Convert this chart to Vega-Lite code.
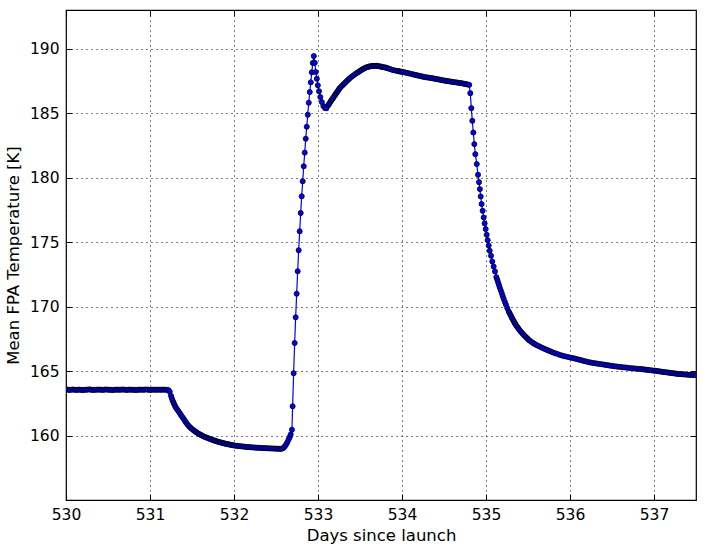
{
  "$schema": "https://vega.github.io/schema/vega-lite/v6.json",
  "width": 630,
  "height": 490,
  "autosize": {"type": "none"},
  "padding": {"left": 66, "top": 10, "right": 10, "bottom": 52},
  "background": "white",
  "config": {
    "view": {"stroke": "#000000", "strokeWidth": 1.2},
    "font": "DejaVu Sans",
    "axis": {
      "labelFont": "DejaVu Sans",
      "labelFontSize": 15.5,
      "labelColor": "#000000",
      "labelFlush": false,
      "titleFont": "DejaVu Sans",
      "titleFontSize": 16.5,
      "titleFontWeight": "normal",
      "titleColor": "#000000",
      "domain": false,
      "tickColor": "#000000",
      "tickSize": -6,
      "tickWidth": 1,
      "labelPadding": 13,
      "gridColor": "#000000",
      "gridDash": [1, 4],
      "gridWidth": 1,
      "gridOpacity": 1
    }
  },
  "data": {"values": [
    {"d":530.00,"t":163.55},{"d":530.02,"t":163.56},{"d":530.04,"t":163.53},{"d":530.06,"t":163.55},{"d":530.08,"t":163.57},{"d":530.10,"t":163.55},{"d":530.12,"t":163.54},{"d":530.14,"t":163.55},{"d":530.16,"t":163.56},{"d":530.18,"t":163.54},{"d":530.20,"t":163.52},{"d":530.22,"t":163.55},{"d":530.24,"t":163.55},{"d":530.26,"t":163.56},{"d":530.28,"t":163.58},{"d":530.30,"t":163.55},{"d":530.32,"t":163.53},{"d":530.34,"t":163.55},{"d":530.36,"t":163.55},{"d":530.38,"t":163.56},{"d":530.40,"t":163.56},{"d":530.42,"t":163.55},{"d":530.44,"t":163.54},{"d":530.46,"t":163.56},{"d":530.48,"t":163.57},{"d":530.50,"t":163.55},{"d":530.52,"t":163.55},{"d":530.54,"t":163.54},{"d":530.56,"t":163.53},{"d":530.58,"t":163.55},{"d":530.60,"t":163.56},{"d":530.62,"t":163.55},{"d":530.64,"t":163.55},{"d":530.66,"t":163.56},{"d":530.68,"t":163.57},{"d":530.70,"t":163.55},{"d":530.72,"t":163.54},{"d":530.74,"t":163.55},{"d":530.76,"t":163.56},{"d":530.78,"t":163.55},{"d":530.80,"t":163.55},{"d":530.82,"t":163.54},{"d":530.84,"t":163.53},{"d":530.86,"t":163.55},{"d":530.88,"t":163.56},{"d":530.90,"t":163.55},{"d":530.92,"t":163.55},{"d":530.94,"t":163.56},{"d":530.96,"t":163.57},{"d":530.98,"t":163.55},{"d":531.00,"t":163.54},{"d":531.02,"t":163.55},{"d":531.04,"t":163.56},{"d":531.06,"t":163.55},{"d":531.08,"t":163.55},{"d":531.10,"t":163.56},{"d":531.12,"t":163.55},{"d":531.14,"t":163.55},{"d":531.16,"t":163.56},{"d":531.18,"t":163.55},{"d":531.20,"t":163.54},{"d":531.22,"t":163.52},{"d":531.235,"t":163.40},
    {"d":531.25,"t":163.08},{"d":531.26,"t":162.88},{"d":531.27,"t":162.70},{"d":531.28,"t":162.55},{"d":531.29,"t":162.40},{"d":531.30,"t":162.27},{"d":531.31,"t":162.15},{"d":531.325,"t":162.01},{"d":531.34,"t":161.88},{"d":531.355,"t":161.73},{"d":531.37,"t":161.58},{"d":531.385,"t":161.44},{"d":531.40,"t":161.30},{"d":531.415,"t":161.15},{"d":531.43,"t":161.00},{"d":531.445,"t":160.87},{"d":531.46,"t":160.75},{"d":531.475,"t":160.65},{"d":531.49,"t":160.56},{"d":531.505,"t":160.48},{"d":531.52,"t":160.40},{"d":531.535,"t":160.33},{"d":531.55,"t":160.26},{"d":531.565,"t":160.20},{"d":531.58,"t":160.14},{"d":531.595,"t":160.08},{"d":531.61,"t":160.03},{"d":531.625,"t":159.98},{"d":531.64,"t":159.93},{"d":531.655,"t":159.89},{"d":531.67,"t":159.85},{"d":531.685,"t":159.81},{"d":531.70,"t":159.77},{"d":531.715,"t":159.73},{"d":531.73,"t":159.70},{"d":531.745,"t":159.66},{"d":531.76,"t":159.63},{"d":531.775,"t":159.59},{"d":531.79,"t":159.56},{"d":531.805,"t":159.53},{"d":531.82,"t":159.50},{"d":531.835,"t":159.47},{"d":531.85,"t":159.45},{"d":531.865,"t":159.42},{"d":531.88,"t":159.40},{"d":531.895,"t":159.37},{"d":531.91,"t":159.35},{"d":531.925,"t":159.33},{"d":531.94,"t":159.31},{"d":531.955,"t":159.29},{"d":531.97,"t":159.27},{"d":531.985,"t":159.25},{"d":532.00,"t":159.23},{"d":532.02,"t":159.21},{"d":532.04,"t":159.20},{"d":532.06,"t":159.18},{"d":532.08,"t":159.17},{"d":532.10,"t":159.15},{"d":532.12,"t":159.14},{"d":532.14,"t":159.12},{"d":532.16,"t":159.11},{"d":532.18,"t":159.10},{"d":532.20,"t":159.09},{"d":532.22,"t":159.08},{"d":532.24,"t":159.07},{"d":532.26,"t":159.06},{"d":532.28,"t":159.05},{"d":532.30,"t":159.05},{"d":532.32,"t":159.04},{"d":532.34,"t":159.03},{"d":532.36,"t":159.02},{"d":532.38,"t":159.02},{"d":532.40,"t":159.01},{"d":532.42,"t":159.00},{"d":532.44,"t":159.00},{"d":532.46,"t":158.99},{"d":532.48,"t":158.99},{"d":532.50,"t":158.98},{"d":532.52,"t":158.98},{"d":532.54,"t":158.97},{"d":532.56,"t":158.97},{"d":532.575,"t":158.99},{"d":532.59,"t":159.05},{"d":532.605,"t":159.16},{"d":532.62,"t":159.30},{"d":532.635,"t":159.48},{"d":532.65,"t":159.69},{"d":532.663,"t":159.88},{"d":532.675,"t":160.08},{"d":532.69,"t":160.45},
    {"d":532.698,"t":162.27},{"d":532.71,"t":164.83},{"d":532.722,"t":167.18},{"d":532.734,"t":169.17},{"d":532.746,"t":171.00},{"d":532.758,"t":172.74},{"d":532.77,"t":174.37},{"d":532.782,"t":175.84},{"d":532.794,"t":177.26},{"d":532.806,"t":178.55},{"d":532.818,"t":179.72},{"d":532.83,"t":180.88},{"d":532.842,"t":181.94},{"d":532.854,"t":183.02},{"d":532.866,"t":183.95},{"d":532.878,"t":184.88},{"d":532.89,"t":185.81},{"d":532.902,"t":186.64},{"d":532.914,"t":187.39},{"d":532.926,"t":188.17},{"d":532.938,"t":188.89},{"d":532.95,"t":189.43},{"d":532.962,"t":188.90},{"d":532.974,"t":188.19},{"d":532.986,"t":187.67},{"d":532.998,"t":187.16},{"d":533.012,"t":186.70},{"d":533.028,"t":186.25},{"d":533.046,"t":185.86},{"d":533.064,"t":185.55},{"d":533.083,"t":185.40},{"d":533.10,"t":185.38},{"d":533.12,"t":185.60},
    {"d":533.13,"t":185.70},{"d":533.139,"t":185.79},{"d":533.15,"t":185.90},{"d":533.16,"t":186.00},{"d":533.17,"t":186.09},{"d":533.179,"t":186.17},{"d":533.19,"t":186.28},{"d":533.20,"t":186.38},{"d":533.21,"t":186.47},{"d":533.218,"t":186.56},{"d":533.23,"t":186.66},{"d":533.24,"t":186.76},{"d":533.25,"t":186.85},{"d":533.258,"t":186.94},{"d":533.275,"t":187.05},{"d":533.29,"t":187.15},{"d":533.303,"t":187.24},{"d":533.317,"t":187.32},{"d":533.333,"t":187.43},{"d":533.35,"t":187.53},{"d":533.363,"t":187.62},{"d":533.377,"t":187.70},{"d":533.40,"t":187.82},{"d":533.42,"t":187.92},{"d":533.44,"t":188.01},{"d":533.456,"t":188.09},{"d":533.473,"t":188.16},{"d":533.49,"t":188.23},{"d":533.503,"t":188.29},{"d":533.516,"t":188.34},{"d":533.53,"t":188.40},{"d":533.545,"t":188.45},{"d":533.56,"t":188.50},{"d":533.575,"t":188.55},{"d":533.59,"t":188.58},{"d":533.605,"t":188.61},{"d":533.62,"t":188.63},{"d":533.635,"t":188.65},{"d":533.65,"t":188.66},{"d":533.665,"t":188.67},{"d":533.68,"t":188.67},{"d":533.694,"t":188.67},{"d":533.71,"t":188.66},{"d":533.725,"t":188.64},{"d":533.74,"t":188.62},{"d":533.754,"t":188.60},{"d":533.77,"t":188.58},{"d":533.784,"t":188.56},{"d":533.80,"t":188.54},{"d":533.813,"t":188.52},{"d":533.83,"t":188.48},{"d":533.85,"t":188.44},{"d":533.87,"t":188.39},{"d":533.893,"t":188.34},{"d":533.915,"t":188.31},{"d":533.94,"t":188.28},{"d":533.955,"t":188.26},{"d":533.97,"t":188.24},{"d":533.985,"t":188.22},{"d":534.00,"t":188.21},{"d":534.02,"t":188.18},{"d":534.04,"t":188.15},{"d":534.06,"t":188.12},{"d":534.08,"t":188.09},{"d":534.105,"t":188.05},{"d":534.131,"t":188.01},{"d":534.15,"t":187.98},{"d":534.17,"t":187.95},{"d":534.19,"t":187.92},{"d":534.21,"t":187.89},{"d":534.23,"t":187.86},{"d":534.25,"t":187.83},{"d":534.27,"t":187.80},{"d":534.29,"t":187.78},{"d":534.31,"t":187.76},{"d":534.33,"t":187.74},{"d":534.35,"t":187.72},{"d":534.369,"t":187.70},{"d":534.39,"t":187.67},{"d":534.41,"t":187.65},{"d":534.43,"t":187.62},{"d":534.45,"t":187.60},{"d":534.47,"t":187.57},{"d":534.488,"t":187.55},{"d":534.51,"t":187.52},{"d":534.53,"t":187.50},{"d":534.55,"t":187.48},{"d":534.57,"t":187.46},{"d":534.59,"t":187.44},{"d":534.607,"t":187.42},{"d":534.63,"t":187.40},{"d":534.65,"t":187.38},{"d":534.67,"t":187.36},{"d":534.69,"t":187.34},{"d":534.71,"t":187.32},{"d":534.726,"t":187.30},{"d":534.746,"t":187.27},{"d":534.766,"t":187.25},{"d":534.783,"t":187.22},{"d":534.80,"t":187.20},
    {"d":534.813,"t":186.55},{"d":534.825,"t":185.39},{"d":534.837,"t":184.41},{"d":534.849,"t":183.50},{"d":534.861,"t":182.60},{"d":534.873,"t":181.82},{"d":534.89,"t":181.05},{"d":534.905,"t":180.22},{"d":534.917,"t":179.65},{"d":534.927,"t":179.11},{"d":534.937,"t":178.54},{"d":534.948,"t":177.95},{"d":534.96,"t":177.43},{"d":534.972,"t":176.91},{"d":534.984,"t":176.45},{"d":534.996,"t":176.01},{"d":535.008,"t":175.57},{"d":535.02,"t":175.15},{"d":535.032,"t":174.74},{"d":535.044,"t":174.33},{"d":535.06,"t":173.94},{"d":535.075,"t":173.50},{"d":535.091,"t":173.11},{"d":535.107,"t":172.73},{"d":535.123,"t":172.29},{"d":535.133,"t":172.10},{"d":535.143,"t":171.90},{"d":535.153,"t":171.70},{"d":535.163,"t":171.49},{"d":535.175,"t":171.27},{"d":535.187,"t":171.05},{"d":535.198,"t":170.83},{"d":535.21,"t":170.61},{"d":535.224,"t":170.37},{"d":535.238,"t":170.14},{"d":535.254,"t":169.88},{"d":535.27,"t":169.63},{"d":535.28,"t":169.50},{"d":535.29,"t":169.37},{"d":535.30,"t":169.24},{"d":535.31,"t":169.11},{"d":535.32,"t":168.99},{"d":535.33,"t":168.87},{"d":535.34,"t":168.75},{"d":535.349,"t":168.64},{"d":535.361,"t":168.53},{"d":535.373,"t":168.42},{"d":535.385,"t":168.31},{"d":535.397,"t":168.20},{"d":535.41,"t":168.09},{"d":535.426,"t":167.98},{"d":535.44,"t":167.87},{"d":535.456,"t":167.76},{"d":535.47,"t":167.67},{"d":535.486,"t":167.57},{"d":535.50,"t":167.47},{"d":535.516,"t":167.38},{"d":535.535,"t":167.29},{"d":535.555,"t":167.20},{"d":535.575,"t":167.12},{"d":535.595,"t":167.04},{"d":535.62,"t":166.96},{"d":535.645,"t":166.88},{"d":535.67,"t":166.80},{"d":535.694,"t":166.73},{"d":535.72,"t":166.66},{"d":535.744,"t":166.59},{"d":535.77,"t":166.52},{"d":535.794,"t":166.45},{"d":535.823,"t":166.38},{"d":535.853,"t":166.32},{"d":535.883,"t":166.25},{"d":535.913,"t":166.19},{"d":535.94,"t":166.14},{"d":535.97,"t":166.10},{"d":536.00,"t":166.05},{"d":536.032,"t":166.01},{"d":536.055,"t":165.97},{"d":536.08,"t":165.93},{"d":536.105,"t":165.89},{"d":536.13,"t":165.85},{"d":536.155,"t":165.80},{"d":536.18,"t":165.76},{"d":536.205,"t":165.72},{"d":536.23,"t":165.68},{"d":536.255,"t":165.65},{"d":536.28,"t":165.62},{"d":536.305,"t":165.60},{"d":536.33,"t":165.57},{"d":536.355,"t":165.55},{"d":536.38,"t":165.52},{"d":536.405,"t":165.50},{"d":536.43,"t":165.47},{"d":536.455,"t":165.45},{"d":536.48,"t":165.42},{"d":536.505,"t":165.40},{"d":536.53,"t":165.37},{"d":536.555,"t":165.35},{"d":536.58,"t":165.33},{"d":536.605,"t":165.31},{"d":536.63,"t":165.29},{"d":536.655,"t":165.28},{"d":536.68,"t":165.26},{"d":536.705,"t":165.24},{"d":536.73,"t":165.22},{"d":536.755,"t":165.21},{"d":536.78,"t":165.19},{"d":536.805,"t":165.18},{"d":536.83,"t":165.16},{"d":536.85,"t":165.15},{"d":536.87,"t":165.13},{"d":536.89,"t":165.12},{"d":536.91,"t":165.10},{"d":536.93,"t":165.09},{"d":536.95,"t":165.07},{"d":536.975,"t":165.05},{"d":537.00,"t":165.03},{"d":537.02,"t":165.02},{"d":537.04,"t":165.00},{"d":537.06,"t":164.98},{"d":537.08,"t":164.96},{"d":537.10,"t":164.94},{"d":537.12,"t":164.92},{"d":537.14,"t":164.91},{"d":537.16,"t":164.89},{"d":537.18,"t":164.87},{"d":537.20,"t":164.85},{"d":537.22,"t":164.84},{"d":537.24,"t":164.82},{"d":537.26,"t":164.80},{"d":537.28,"t":164.78},{"d":537.30,"t":164.77},{"d":537.32,"t":164.76},{"d":537.34,"t":164.75},{"d":537.36,"t":164.74},{"d":537.38,"t":164.73},{"d":537.40,"t":164.72},{"d":537.42,"t":164.71},{"d":537.44,"t":164.70},{"d":537.46,"t":164.70},{"d":537.48,"t":164.69},{"d":537.50,"t":164.68}
  ]},
  "layer": [
    {
      "mark": {"type": "line", "color": "#0000ff", "strokeWidth": 1.2, "clip": true},
      "encoding": {
        "x": {"field": "d", "type": "quantitative",
              "scale": {"domain": [530, 537.5], "nice": false, "zero": false},
              "axis": {"orient": "bottom", "values": [530,531,532,533,534,535,536,537], "format": "d", "title": "Days since launch", "titlePadding": 5, "grid": true}},
        "y": {"field": "t", "type": "quantitative",
              "scale": {"domain": [155, 193], "nice": false, "zero": false},
              "axis": {"orient": "left", "values": [160,165,170,175,180,185,190], "format": "d", "title": "Mean FPA Temperature [K]", "titlePadding": 8, "grid": true}}
      }
    },
    {
      "mark": {"type": "point", "filled": true, "fill": "#0000ff", "stroke": "#000000", "strokeWidth": 0.8, "size": 26, "opacity": 1, "clip": true},
      "encoding": {
        "x": {"field": "d", "type": "quantitative",
              "scale": {"domain": [530, 537.5], "nice": false, "zero": false},
              "axis": {"orient": "top", "values": [530,531,532,533,534,535,536,537], "labels": false, "title": null, "grid": false}},
        "y": {"field": "t", "type": "quantitative",
              "scale": {"domain": [155, 193], "nice": false, "zero": false},
              "axis": {"orient": "right", "values": [160,165,170,175,180,185,190], "labels": false, "title": null, "grid": false}}
      }
    }
  ]
}
